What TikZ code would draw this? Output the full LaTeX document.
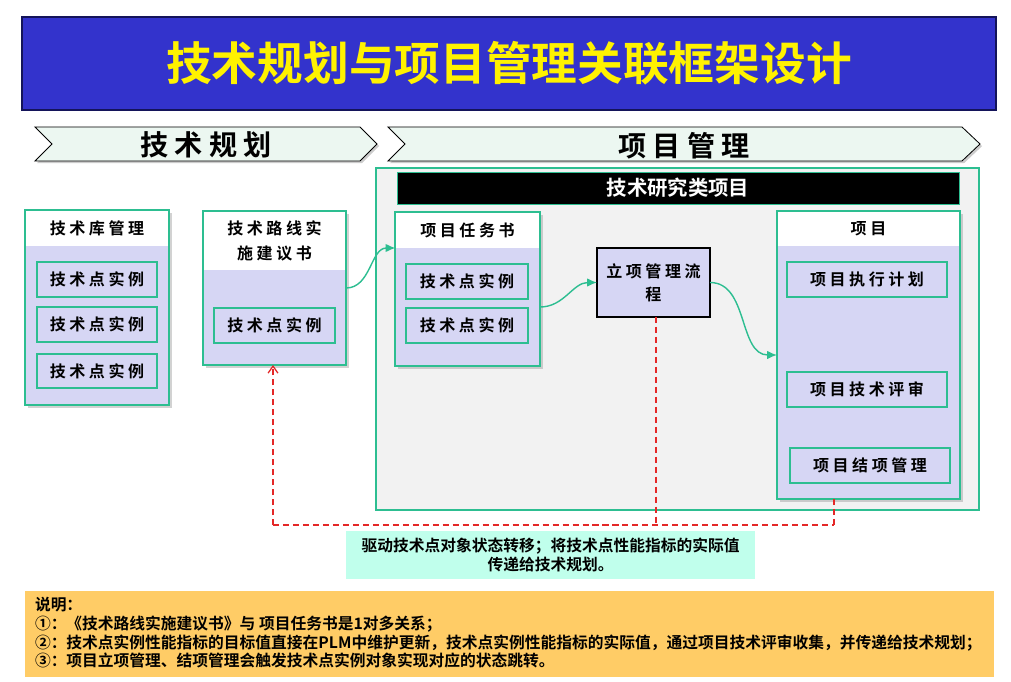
\documentclass[tikz,border=0pt]{standalone}
\usepackage{fontspec}
\setmainfont{Noto Sans CJK SC}
\newfontfamily\cjkB{Noto Sans CJK SC Bold}
\newfontfamily\cjkS{Noto Sans CJK SC Bold}[LetterSpace=22]
\usetikzlibrary{shadows,fit,arrows.meta}
\definecolor{ttlblue}{RGB}{51,51,204}
\definecolor{ttlborder}{RGB}{20,20,90}
\definecolor{teal2}{RGB}{45,190,145}
\definecolor{lav}{RGB}{214,214,244}
\definecolor{chevfill}{RGB}{236,247,241}
\definecolor{outerfill}{RGB}{242,242,242}
\definecolor{notecyan}{RGB}{192,255,236}
\definecolor{noteorange}{RGB}{255,204,102}
\definecolor{reddash}{RGB}{228,40,40}
\begin{document}
\begin{tikzpicture}[x=0.025cm,y=-0.025cm,
  box/.style={inner sep=0pt, outer sep=0pt},
  card/.style={box, fill=lav, draw=teal2, line width=0.8pt,
     drop shadow={shadow xshift=2pt, shadow yshift=-2pt, opacity=0.35}},
  cardhead/.style={box, fill=white},
  boxfont/.style={font=\cjkS\fontsize{11.4}{17}\selectfont, align=center, inner sep=0pt},
  itembox/.style={box, draw=teal2, line width=0.8pt},
  chev/.style={fill=chevfill, draw=black, line width=0.6pt,
     drop shadow={shadow xshift=1.5pt, shadow yshift=-1.5pt, opacity=0.4}},
  chevtext/.style={font=\cjkS\fontsize{20}{24}\selectfont},
  garrow/.style={draw=teal2, line width=1pt, -{Latex[length=7pt,width=6pt]}},
  rdash/.style={draw=reddash, line width=0.9pt, dash pattern=on 4.3pt off 2.8pt},
]
\useasboundingbox (0,0) rectangle (1011,682);
\fill[white] (0,0) rectangle (1011,682);

% title banner
\node[box, fit={(22,17) (996,110)}, fill=ttlblue, draw=ttlborder, line width=1pt] (title) {};
\node[text=yellow, font=\cjkB\fontsize{32.5}{38}\selectfont, inner sep=0pt] (titletext) at (title.center) {技术规划与项目管理关联框架设计};

% chevrons
\draw[chev] (35,127) -- (360,127) -- (377,144) -- (360,161) -- (35,161) -- (52,144) -- cycle;
\node[chevtext] (chev1) at (206,145) {技术规划};
\draw[chev] (388,127) -- (962,127) -- (980,144) -- (962,161) -- (388,161) -- (405,144) -- cycle;
\node[chevtext] (chev2) at (684,146) {项目管理};

% project management area
\node[box, fit={(376,168) (979,510)}, fill=outerfill, draw=teal2, line width=0.8pt] (outer) {};
\node[box, fit={(397,172) (959,204)}, fill=black, draw=teal2, line width=0.6pt] (banner) {};
\node[text=white, font=\cjkB\fontsize{14.5}{17}\selectfont, inner sep=0pt] (bannertext) at (banner.center) {技术研究类项目};

% card: 技术库管理
\node[card, fit={(25,210) (169,405)}] (lib) {};
\node[cardhead, fit={(25.5,210.5) (168.5,246)}] (libhead) {};
\draw[teal2, line width=0.8pt] (lib.north west) rectangle (lib.south east);
\node[boxfont] (libheadt) at (libhead.center) {技术库管理};
\node[itembox, fit={(37,262) (157,297)}] (lib1) {};
\node[boxfont] (lib1t) at (lib1.center) {技术点实例};
\node[itembox, fit={(37,307) (157,342)}] (lib2) {};
\node[boxfont] (lib2t) at (lib2.center) {技术点实例};
\node[itembox, fit={(37,354) (157,388)}] (lib3) {};
\node[boxfont] (lib3t) at (lib3.center) {技术点实例};

% card: 技术路线实施建议书
\node[card, fit={(203,211) (346,365)}] (road) {};
\node[cardhead, fit={(203.5,211.5) (345.5,270)}] (roadhead) {};
\draw[teal2, line width=0.8pt] (road.north west) rectangle (road.south east);
\node[boxfont, font=\cjkS\fontsize{11.4}{17.5}\selectfont] (roadheadt) at (roadhead.center) {技术路线实\\施建议书};
\node[itembox, fit={(214,308) (335,343)}] (road1) {};
\node[boxfont] (road1t) at (road1.center) {技术点实例};

% card: 项目任务书
\node[card, fit={(395,212) (540,366)}] (task) {};
\node[cardhead, fit={(395.5,212.5) (539.5,248)}] (taskhead) {};
\draw[teal2, line width=0.8pt] (task.north west) rectangle (task.south east);
\node[boxfont] (taskheadt) at (taskhead.center) {项目任务书};
\node[itembox, fit={(406,264) (528,299)}] (task1) {};
\node[boxfont] (task1t) at (task1.center) {技术点实例};
\node[itembox, fit={(406,308) (528,343)}] (task2) {};
\node[boxfont] (task2t) at (task2.center) {技术点实例};

% 立项管理流程
\node[box, fit={(597,248) (710,317)}, fill=lav, draw=black, line width=0.8pt] (lixiang) {};
\node[boxfont, font=\cjkS\fontsize{11.4}{16.5}\selectfont] (lixiangt) at (lixiang.center) {立项管理流\\程};

% card: 项目
\node[card, fit={(777,211) (960,499)}] (proj) {};
\node[cardhead, fit={(777.5,211.5) (959.5,246)}] (projhead) {};
\draw[teal2, line width=0.8pt] (proj.north west) rectangle (proj.south east);
\node[boxfont] (projheadt) at (projhead.center) {项目};
\node[itembox, fit={(787,262) (947,297)}] (proj1) {};
\node[boxfont] (proj1t) at (proj1.center) {项目执行计划};
\node[itembox, fit={(787,372) (947,407)}] (proj2) {};
\node[boxfont] (proj2t) at (proj2.center) {项目技术评审};
\node[itembox, fit={(790,448) (950,483)}] (proj3) {};
\node[boxfont] (proj3t) at (proj3.center) {项目结项管理};

% green connectors
\draw[garrow] (road.east) to[out=0,in=180] (taskhead.south west);
\draw[garrow] ([yshift=-12.8pt]task.east) to[out=0,in=180] (lixiang.west);
\draw[garrow] (lixiang.east) to[out=0,in=180] (proj.west);

% red dashed feedback
\coordinate (r1) at (273,525);
\coordinate (r2) at (656,525);
\coordinate (r3) at (834,525);
\draw[rdash, -{Straight Barb[length=5pt,width=7pt]}] (r1) -- (r1 |- road.south);
\draw[rdash] (r1) -- (r3);
\draw[rdash] (r2 |- lixiang.south) -- (r2);
\draw[rdash] (r3 |- proj.south) -- (r3);

% notes
\node[box, fit={(346,531) (755,579)}, fill=notecyan] (note1) {};
\node[align=center, inner sep=0pt, font=\cjkB\fontsize{11.2}{13.6}\selectfont] (note1t) at (note1.center)
      {驱动技术点对象状态转移；将技术点性能指标的实际值\\传递给技术规划。};
\node[box, fit={(25,591) (994,677)}, fill=noteorange] (note2) {};
\node[box, anchor=west, align=left, font=\cjkB\fontsize{11.2}{13.3}\selectfont] (note2text) at (35,633)
  {说明：\\①：《技术路线实施建议书》与 项目任务书是1对多关系；\\②：技术点实例性能指标的目标值直接在PLM中维护更新，技术点实例性能指标的实际值，通过项目技术评审收集，并传递给技术规划；\\③：项目立项管理、结项管理会触发技术点实例对象实现对应的状态跳转。};
\end{tikzpicture}
\end{document}
